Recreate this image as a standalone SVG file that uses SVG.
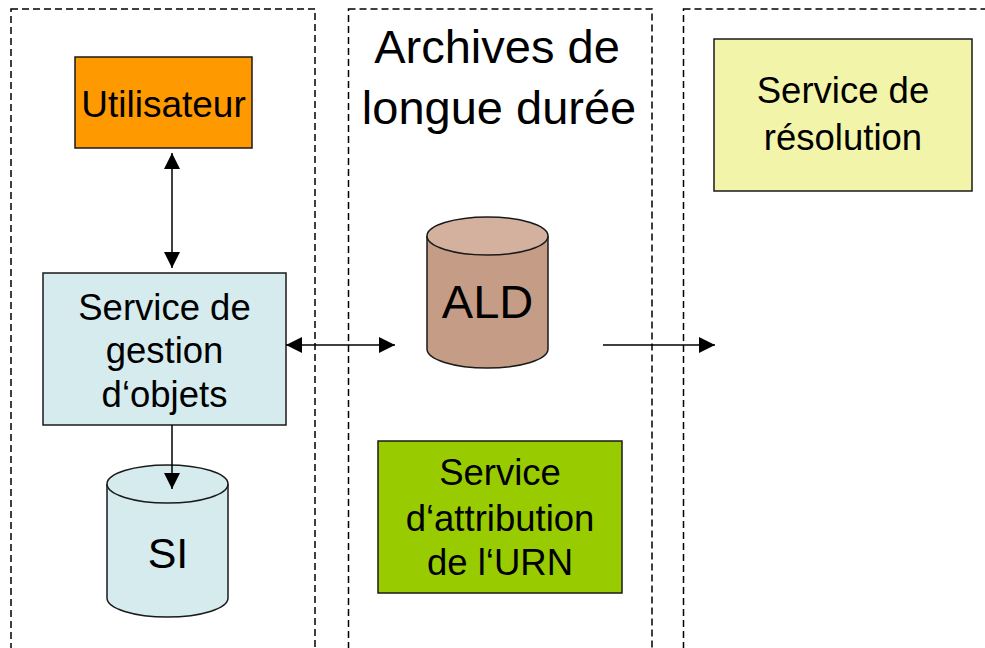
<svg xmlns="http://www.w3.org/2000/svg" width="985" height="648" viewBox="0 0 985 648">
<style>
.zone{fill:none;stroke:#000;stroke-width:1.5;stroke-dasharray:7,4}
.box{stroke:#1a1a1a;stroke-width:1.5}
.t{font-family:"Liberation Sans",Arial,sans-serif;fill:#000;text-anchor:middle}
.conn{stroke:#000;stroke-width:1.5;fill:none}
</style>
<defs>
<marker id="ah" viewBox="0 0 10 10" refX="10" refY="5" markerWidth="10" markerHeight="10" markerUnits="userSpaceOnUse" orient="auto-start-reverse">
<path d="M0,0 L10,5 L0,10 Z" fill="#000"/>
</marker>
<marker id="ahL" viewBox="0 0 16 16" refX="16" refY="8" markerWidth="16" markerHeight="16" markerUnits="userSpaceOnUse" orient="auto-start-reverse">
<path d="M0,0 L16,8 L0,16 Z" fill="#000"/>
</marker>
</defs>
<rect width="985" height="648" fill="#fff"/>
<g id="zones">
<rect class="zone" x="11" y="9" width="304" height="660"/>
<rect class="zone" x="348.5" y="9" width="303.5" height="660"/>
<rect class="zone" x="683.5" y="9" width="320" height="660"/>
</g>
<g id="archives-title">
<text class="t" x="497" y="63" font-size="47">Archives de</text>
<text class="t" x="499" y="124" font-size="47">longue durée</text>
</g>
<g id="utilisateur">
<rect class="box" x="75" y="57" width="177" height="91" fill="#FF9900"/>
<text class="t" x="163.5" y="117" font-size="37">Utilisateur</text>
</g>
<g id="service-gestion">
<rect class="box" x="43" y="273" width="243" height="152" fill="#D5EBEE"/>
<text class="t" x="164.5" y="320" font-size="36.5">Service de</text>
<text class="t" x="164.5" y="363" font-size="36.5">gestion</text>
<text class="t" x="164.5" y="407" font-size="36.5">d‘objets</text>
</g>
<g id="si">
<path class="box" d="M107,484 L107,598 A60.5,19 0 0 0 228,598 L228,484" fill="#D5EBEE"/>
<ellipse class="box" cx="167.5" cy="484" rx="60.5" ry="19" fill="#D5EBEE"/>
<text class="t" x="168" y="568" font-size="43">SI</text>
</g>
<g id="ald">
<path class="box" d="M427,236 L427,349 A60.5,19 0 0 0 548,349 L548,236" fill="#C59C85"/>
<ellipse class="box" cx="487.5" cy="236" rx="60.5" ry="19" fill="#D3B19E"/>
<text class="t" x="487.5" y="318" font-size="47">ALD</text>
</g>
<g id="service-attribution">
<rect class="box" x="378" y="441" width="244" height="152" fill="#99CC00"/>
<text class="t" x="500" y="485" font-size="36.5">Service</text>
<text class="t" x="500" y="531" font-size="36.5">d‘attribution</text>
<text class="t" x="500" y="575" font-size="36.5">de l‘URN</text>
</g>
<g id="service-resolution">
<rect class="box" x="714" y="39" width="258" height="152" fill="#F2F5A9"/>
<text class="t" x="843" y="103" font-size="36.5">Service de</text>
<text class="t" x="843" y="150" font-size="36.5">résolution</text>
</g>
<g id="connectors">
<line class="conn" x1="172" y1="153" x2="172" y2="268" marker-start="url(#ahL)" marker-end="url(#ahL)"/>
<line class="conn" x1="286" y1="345" x2="395" y2="345" marker-start="url(#ahL)" marker-end="url(#ahL)"/>
<line class="conn" x1="172" y1="425" x2="172" y2="489" marker-end="url(#ahL)"/>
<line class="conn" x1="603" y1="345" x2="715" y2="345" marker-end="url(#ahL)"/>
</g>
</svg>
